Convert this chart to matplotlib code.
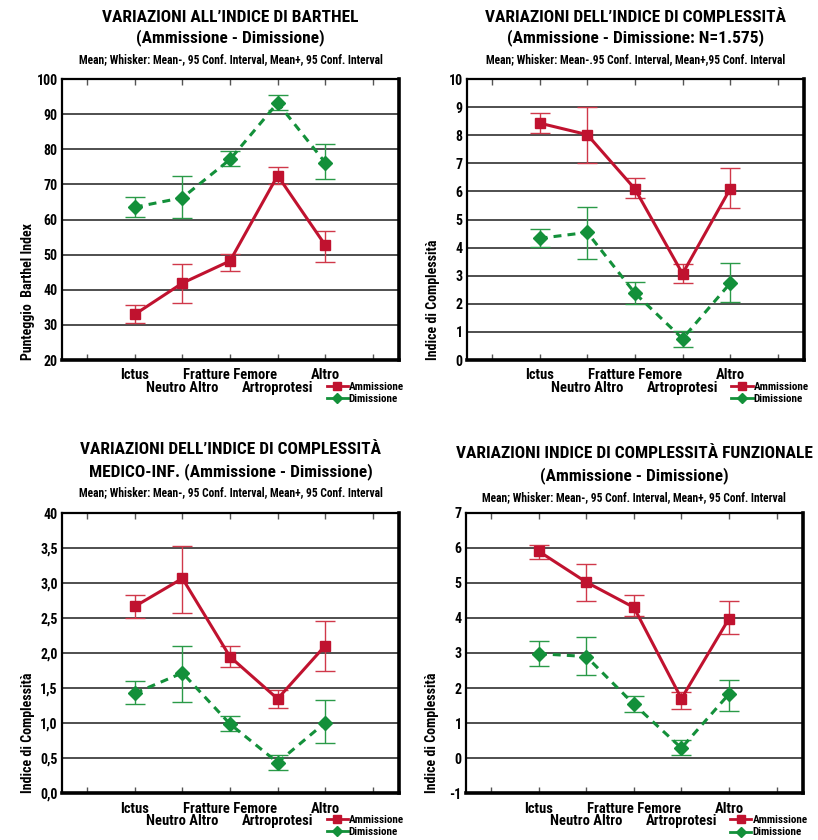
import matplotlib
matplotlib.use("Agg")
import matplotlib.pyplot as plt
from matplotlib.lines import Line2D
import matplotlib.transforms as mtransforms
import numpy as np

plt.rcParams['font.family'] = ['Roboto Condensed', 'DejaVu Sans']
plt.rcParams['font.weight'] = 'bold'

categories = ['Ictus', 'Neutro Altro', 'Fratture Femore', 'Artroprotesi', 'Altro']
series_names = ['Ammissione', 'Dimissione']

# Barthel index
barthel_amm = [33.0, 41.9, 48.2, 72.5, 52.7]
barthel_amm_lo = [30.6, 36.3, 45.4, 70.2, 47.9]
barthel_amm_hi = [35.6, 47.2, 50.3, 75.0, 56.8]
barthel_dim = [63.5, 66.2, 77.1, 93.2, 76.2]
barthel_dim_lo = [60.8, 60.5, 75.2, 91.1, 71.4]
barthel_dim_hi = [66.4, 72.5, 79.4, 95.5, 81.6]

# overall complexity index
compl_amm = [8.43, 8.02, 6.09, 3.07, 6.09]
compl_amm_lo = [8.07, 7.02, 5.76, 2.73, 5.41]
compl_amm_hi = [8.78, 9.00, 6.47, 3.43, 6.83]
compl_dim = [4.33, 4.54, 2.38, 0.76, 2.73]
compl_dim_lo = [4.03, 3.60, 2.01, 0.46, 2.05]
compl_dim_hi = [4.65, 5.46, 2.76, 1.04, 3.46]

# medical-nursing complexity index
medinf_amm = [2.67, 3.07, 1.95, 1.35, 2.11]
medinf_amm_lo = [2.50, 2.58, 1.80, 1.22, 1.75]
medinf_amm_hi = [2.84, 3.54, 2.10, 1.47, 2.46]
medinf_dim = [1.43, 1.72, 0.99, 0.44, 1.01]
medinf_dim_lo = [1.27, 1.30, 0.89, 0.33, 0.72]
medinf_dim_hi = [1.61, 2.11, 1.11, 0.55, 1.33]

# functional complexity index
funz_amm = [5.90, 5.02, 4.30, 1.70, 3.98]
funz_amm_lo = [5.69, 4.49, 4.05, 1.41, 3.54]
funz_amm_hi = [6.08, 5.54, 4.64, 1.90, 4.47]
funz_dim = [2.98, 2.90, 1.54, 0.29, 1.83]
funz_dim_lo = [2.64, 2.38, 1.33, 0.09, 1.34]
funz_dim_hi = [3.33, 3.47, 1.76, 0.51, 2.24]

RED = '#c0122f'
RED_ERR = '#d0384a'
GREEN = '#13903a'
GREEN_ERR = '#2a9a48'

fig = plt.figure(figsize=(8.18, 8.4), dpi=100)


def draw_panel(rect, title, subtitle, ylabel, yticks, yticklabels,
               amm, amm_lo, amm_hi, dim, dim_lo, dim_hi, title_y):
    ax = fig.add_axes(rect)
    x = np.arange(len(categories))
    ymin, ymax = yticks[0], yticks[-1]

    for v in yticks[1:-1]:
        ax.axhline(v, color='#1e1e1e', lw=1.1, zorder=1)

    amm = np.array(amm); dim = np.array(dim)
    ax.errorbar(x, amm, yerr=[amm - np.array(amm_lo), np.array(amm_hi) - amm],
                fmt='none', ecolor=RED_ERR, elinewidth=1.0, capsize=7,
                capthick=1.0, zorder=2)
    ax.errorbar(x, dim, yerr=[dim - np.array(dim_lo), np.array(dim_hi) - dim],
                fmt='none', ecolor=GREEN_ERR, elinewidth=1.0, capsize=7,
                capthick=1.0, zorder=2)
    ax.plot(x, amm, color=RED, lw=2.2, marker='s', ms=7.5, mec=RED,
            zorder=4, solid_joinstyle='round')
    ax.plot(x, dim, color=GREEN, lw=2.2, ls=(0, (2.6, 2.0)), marker='D',
            ms=7, mec=GREEN, zorder=3)

    ax.set_xlim(-1.53, 5.55)
    ax.set_ylim(ymin, ymax)
    ax.set_yticks(yticks)
    ax.set_yticklabels(yticklabels, fontsize=10)
    ax.tick_params(axis='y', length=0, pad=3)

    # staggered category labels: even ones as tick labels, odd ones one row lower
    ax.set_xticks(x)
    ax.set_xticklabels([c if i % 2 == 0 else '' for i, c in enumerate(categories)],
                       fontsize=10.5)
    trans = mtransforms.blended_transform_factory(ax.transData, ax.transAxes)
    for i, c in enumerate(categories):
        if i % 2 == 1:
            ax.text(x[i], -0.098, c, transform=trans, ha='center', va='center',
                    fontsize=10.5)
    ax.set_xticks([-1, 5], minor=True)
    ax.tick_params(axis='x', which='both', direction='in', length=4,
                   width=1, color='#555555', top=True, pad=6)

    for side in ['left', 'top']:
        ax.spines[side].set_linewidth(1.6)
    for side in ['right', 'bottom']:
        ax.spines[side].set_linewidth(2.6)

    ax.text(-0.10, 0.0, ylabel, transform=ax.transAxes, rotation=90,
            ha='center', va='bottom', fontsize=10)

    handles = [Line2D([], [], color=RED, lw=2, marker='s', ms=6),
               Line2D([], [], color=GREEN, lw=2, marker='D', ms=5.5)]
    ax.legend(handles, series_names, loc='upper left',
              bbox_to_anchor=(0.785, -0.078), frameon=False, fontsize=8,
              handlelength=1.9, handletextpad=0.1, labelspacing=0.2,
              borderpad=0, borderaxespad=0)

    cx = rect[0] + rect[2] * 0.5
    t1, t2, t3 = title_y
    lines = title.split('\n')
    fig.text(cx, 1 - t1 / 840, lines[0], ha='center', va='center', fontsize=12.5)
    fig.text(cx, 1 - t2 / 840, lines[1], ha='center', va='center', fontsize=12.5)
    fig.text(cx, 1 - t3 / 840, subtitle, ha='center', va='center', fontsize=8.3)
    return ax


sub = 'Mean; Whisker: Mean-, 95 Conf. Interval, Mean+, 95 Conf. Interval'

draw_panel([62 / 818, 480 / 840, 337 / 818, 281 / 840],
           'VARIAZIONI ALL\u2019INDICE DI BARTHEL\n(Ammissione - Dimissione)',
           sub, 'Punteggio  Barthel Index',
           [20, 30, 40, 50, 60, 70, 80, 90, 100],
           ['20', '30', '40', '50', '60', '70', '80', '90', '100'],
           barthel_amm, barthel_amm_lo, barthel_amm_hi,
           barthel_dim, barthel_dim_lo, barthel_dim_hi, (17, 38, 60))

draw_panel([466.7 / 818, 480 / 840, 337.3 / 818, 281 / 840],
           'VARIAZIONI DELL\u2019INDICE DI COMPLESSIT\u00c0\n(Ammissione - Dimissione: N=1.575)',
           'Mean; Whisker: Mean-.95 Conf. Interval, Mean+,95 Conf. Interval',
           'Indice di Complessit\u00e0',
           list(range(0, 11)), [str(v) for v in range(0, 11)],
           compl_amm, compl_amm_lo, compl_amm_hi,
           compl_dim, compl_dim_lo, compl_dim_hi, (17, 38, 60))

draw_panel([62 / 818, 46.7 / 840, 337 / 818, 280 / 840],
           'VARIAZIONI DELL\u2019INDICE DI COMPLESSIT\u00c0\nMEDICO-INF. (Ammissione - Dimissione)',
           sub, 'Indice di Complessit\u00e0',
           [0.0, 0.5, 1.0, 1.5, 2.0, 2.5, 3.0, 3.5, 4.0],
           ['0,0', '0,5', '1,0', '1,5', '2,0', '2,5', '3,0', '3,5', '40'],
           medinf_amm, medinf_amm_lo, medinf_amm_hi,
           medinf_dim, medinf_dim_lo, medinf_dim_hi, (450, 472, 493))

draw_panel([466 / 818, 46.7 / 840, 336.7 / 818, 280.6 / 840],
           'VARIAZIONI INDICE DI COMPLESSIT\u00c0 FUNZIONALE\n(Ammissione - Dimissione)',
           sub, 'Indice di Complessit\u00e0',
           list(range(-1, 8)), [str(v) for v in range(-1, 8)],
           funz_amm, funz_amm_lo, funz_amm_hi,
           funz_dim, funz_dim_lo, funz_dim_hi, (453, 476, 498))

fig.savefig('out.png', dpi=100)
